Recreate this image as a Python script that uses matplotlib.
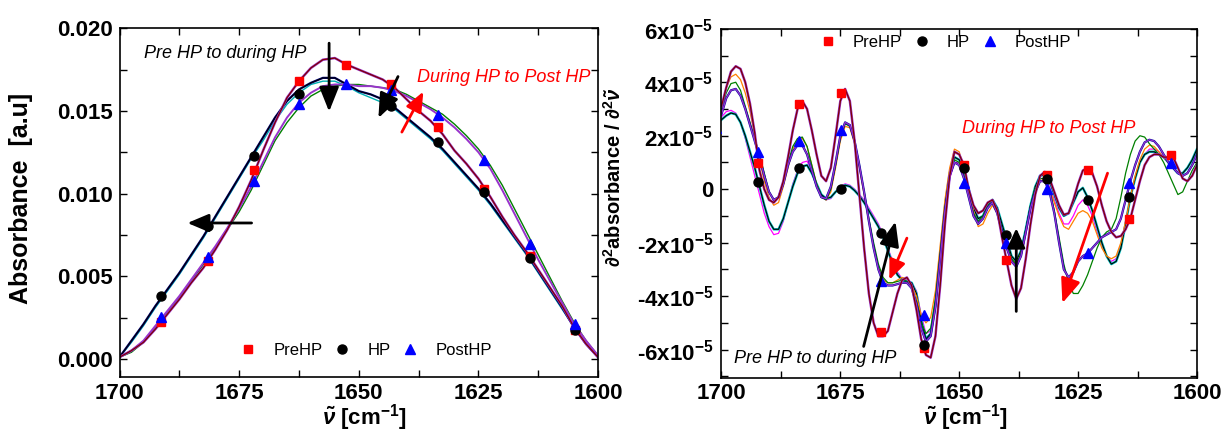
import numpy as np
import matplotlib
matplotlib.use('Agg')
import matplotlib.pyplot as plt
from matplotlib.ticker import MultipleLocator

plt.rcParams['font.family'] = ['Liberation Sans', 'DejaVu Sans']
plt.rcParams['mathtext.fontset'] = 'custom'
plt.rcParams['mathtext.rm'] = 'Liberation Sans:bold'
plt.rcParams['mathtext.bf'] = 'Liberation Sans:bold'
plt.rcParams['mathtext.it'] = 'Liberation Sans:italic:bold'
plt.rcParams['mathtext.default'] = 'rm'

# ---- left panel: absorbance, x every 2.5 cm-1 from 1700 to 1600 (values in 1e-3 a.u.)
wn_left = np.arange(1700, 1599, -2.5)
abs_pre = [0.1, 0.5, 1.0, 1.8, 2.7, 3.6, 4.6, 5.5, 6.6, 7.8,
           9.2, 10.8, 12.6, 14.3, 15.8, 16.8, 17.6, 18.1, 18.2, 17.8,
           17.5, 17.2, 16.9, 16.4, 15.7, 15.0, 14.4, 13.6, 12.6, 11.8,
           10.9, 9.8, 8.6, 7.5, 6.5, 5.4, 4.3, 3.2, 1.9, 0.9,
           0.1]
abs_hp = [0.1, 1.1, 2.1, 3.2, 4.2, 5.2, 6.3, 7.4, 8.6, 9.8,
          11.0, 12.2, 13.4, 14.6, 15.6, 16.3, 16.7, 17.0, 17.0, 16.6,
          16.2, 16.0, 15.7, 15.2, 14.6, 14.0, 13.4, 12.7, 11.9, 11.1,
          10.3, 9.4, 8.4, 7.4, 6.4, 5.3, 4.2, 3.1, 1.9, 0.9,
          0.1]
abs_hp2 = [0.1, 1.0, 2.0, 3.1, 4.1, 5.1, 6.2, 7.3, 8.5, 9.7,
           10.9, 12.1, 13.2, 14.4, 15.4, 16.1, 16.6, 16.8, 16.8, 16.5,
           16.1, 15.8, 15.5, 15.1, 14.5, 13.9, 13.3, 12.6, 11.8, 11.0,
           10.2, 9.3, 8.3, 7.3, 6.3, 5.2, 4.1, 3.0, 1.9, 0.9,
           0.1]
abs_post = [0.1, 0.5, 1.1, 2.0, 2.9, 3.8, 4.8, 5.8, 6.8, 7.9,
            9.1, 10.4, 11.9, 13.4, 14.6, 15.5, 16.1, 16.5, 16.6, 16.6,
            16.5, 16.5, 16.4, 16.2, 15.9, 15.5, 15.1, 14.6, 14.0, 13.3,
            12.5, 11.5, 10.2, 8.8, 7.4, 6.0, 4.7, 3.4, 2.1, 1.1,
            0.2]
abs_post2 = [0.1, 0.4, 1.0, 1.9, 2.8, 3.7, 4.7, 5.7, 6.7, 7.8,
             8.9, 10.2, 11.7, 13.2, 14.3, 15.2, 15.9, 16.3, 16.5, 16.6,
             16.6, 16.5, 16.4, 16.3, 16.0, 15.6, 15.2, 14.8, 14.2, 13.5,
             12.7, 11.7, 10.5, 9.1, 7.7, 6.3, 4.9, 3.5, 2.2, 1.1,
             0.2]

mk_left = [1691.3, 1681.5, 1671.9, 1662.4, 1652.7, 1643.2, 1633.5, 1623.9, 1614.3, 1604.9]
mk_pre_left = [2.25, 5.93, 11.4, 16.8, 17.8, 16.6, 14.0, 10.25, 6.23, 1.77]
mk_hp_left = [3.82, 8.02, 12.26, 16.04, np.nan, 15.31, 13.10, 10.11, 6.13, 1.75]
mk_post_left = [2.51, 6.19, 10.75, 15.44, 16.62, 16.28, 14.77, 12.02, 6.97, 2.11]

# ---- right panel: second derivative, x every 1 cm-1 from 1700 to 1600 (values in 1e-5)
wn_right = np.arange(1700, 1599, -1)
d2_pre = [3.1, 3.8, 4.4, 4.6, 4.5, 4.0, 3.2, 2.1, 0.7, 0.0,
          -0.4, -0.5, -0.3, 0.3, 1.2, 2.2, 3.0, 3.3, 3.0, 2.2,
          1.3, 0.5, 0.3, 0.8, 2.0, 3.3, 3.75, 3.3, 1.8, -0.2,
          -2.2, -3.9, -5.0, -5.5, -5.5, -5.3, -4.6, -3.9, -3.4, -3.3,
          -3.6, -4.5, -5.6, -6.2, -6.3, -5.5, -3.6, -1.3, 0.5, 1.4,
          1.3, 0.9, 0.0, -0.6, -0.9, -0.8, -0.5, -0.4, -0.8, -1.8,
          -2.7, -3.6, -4.1, -3.7, -2.6, -1.3, -0.2, 0.5, 0.65, 0.4,
          -0.1, -0.6, -0.95, -0.9, -0.4, 0.2, 0.7, 0.8, 0.6, 0.1,
          -0.6, -1.2, -1.6, -1.8, -1.75, -1.5, -1.1, -0.4, 0.3, 0.9,
          1.2, 1.3, 1.3, 1.2, 1.2, 1.2, 0.8, 0.4, 0.3, 0.5,
          0.9]
d2_hp = [2.6, 2.75, 2.85, 2.8, 2.5, 2.0, 1.4, 0.8, 0.1, -0.6,
         -1.2, -1.5, -1.5, -1.1, -0.5, 0.1, 0.6, 0.85, 0.9, 0.6,
         0.2, -0.2, -0.35, -0.3, -0.1, 0.05, 0.15, 0.1, -0.05, -0.25,
         -0.5, -0.8, -1.1, -1.4, -1.8, -2.3, -2.8, -3.2, -3.4, -3.45,
         -3.5, -3.9, -4.9, -5.6, -5.4, -4.3, -2.5, -0.7, 0.6, 1.2,
         1.1, 0.7, 0.0, -0.7, -1.1, -1.0, -0.6, -0.4, -0.7, -1.3,
         -1.9, -2.5, -2.7, -2.3, -1.5, -0.6, 0.1, 0.5, 0.55, 0.3,
         -0.2, -0.7, -1.0, -0.9, -0.5, -0.1, 0.05, -0.3, -0.8, -1.4,
         -2.0, -2.5, -2.8, -2.7, -2.2, -1.3, -0.3, 0.4, 1.0, 1.3,
         1.4, 1.4, 1.3, 1.2, 1.0, 0.8, 0.6, 0.6, 0.8, 1.1,
         1.5]
d2_hp2 = [2.7, 2.9, 2.95, 2.85, 2.5, 1.9, 1.2, 0.5, -0.2, -0.9,
          -1.4, -1.7, -1.65, -1.2, -0.5, 0.2, 0.7, 1.0, 1.05, 0.7,
          0.2, -0.2, -0.4, -0.35, -0.1, 0.1, 0.2, 0.15, 0.0, -0.2,
          -0.4, -0.7, -1.0, -1.3, -1.7, -2.2, -2.7, -3.1, -3.35, -3.4,
          -3.5, -3.8, -4.7, -5.4, -5.3, -4.3, -2.6, -0.9, 0.4, 1.0,
          1.0, 0.6, -0.1, -0.8, -1.2, -1.1, -0.7, -0.5, -0.8, -1.5,
          -2.2, -2.7, -2.9, -2.5, -1.7, -0.8, -0.1, 0.3, 0.35, 0.1,
          -0.4, -0.9, -1.3, -1.3, -1.0, -0.6, -0.4, -0.6, -1.0, -1.6,
          -2.1, -2.5, -2.7, -2.6, -2.1, -1.2, -0.3, 0.4, 1.0, 1.3,
          1.5, 1.5, 1.4, 1.2, 1.0, 0.8, 0.6, 0.5, 0.6, 0.9,
          1.3]
d2_hp3 = [3.0, 3.8, 4.2, 4.3, 4.1, 3.6, 2.9, 2.0, 1.1, 0.3,
          -0.3, -0.6, -0.5, 0.1, 0.8, 1.5, 1.85, 1.9, 1.6, 0.9,
          0.2, -0.3, -0.4, -0.1, 0.8, 1.8, 2.35, 2.3, 1.7, 0.8,
          -0.2, -1.2, -2.1, -2.9, -3.4, -3.5, -3.5, -3.4, -3.3, -3.35,
          -3.6, -4.0, -4.7, -5.0, -4.8, -3.8, -2.1, -0.4, 0.8, 1.5,
          1.4, 0.8, 0.0, -0.8, -1.4, -1.3, -0.9, -0.6, -0.9, -1.6,
          -2.2, -2.6, -2.8, -2.4, -1.6, -0.7, 0.0, 0.35, 0.3, 0.0,
          -0.5, -1.0, -1.4, -1.5, -1.2, -0.9, -0.8, -0.9, -1.2, -1.7,
          -2.2, -2.5, -2.6, -2.5, -2.0, -1.2, -0.3, 0.5, 1.1, 1.5,
          1.65, 1.6, 1.4, 1.2, 1.0, 0.8, 0.6, 0.5, 0.6, 0.9,
          1.3]
d2_post = [2.8, 3.4, 3.7, 3.75, 3.5, 3.0, 2.4, 1.8, 1.2, 0.5,
           -0.1, -0.4, -0.3, 0.2, 0.9, 1.4, 1.65, 1.65, 1.3, 0.7,
           0.1, -0.3, -0.35, 0.1, 1.0, 2.0, 2.5, 2.4, 1.8, 0.9,
           -0.1, -1.2, -2.2, -3.0, -3.5, -3.6, -3.6, -3.55, -3.5, -3.5,
           -3.7, -4.3, -5.2, -5.7, -5.5, -4.4, -2.6, -0.8, 0.5, 1.0,
           0.9, 0.4, -0.3, -1.0, -1.3, -1.1, -0.7, -0.5, -0.9, -1.6,
           -2.2, -2.7, -2.9, -2.5, -1.6, -0.7, -0.1, 0.3, 0.3, -0.1,
           -0.9, -2.0, -3.0, -3.3, -3.1, -2.7, -2.5, -2.4, -2.2, -2.0,
           -1.8, -1.7, -1.6, -1.5, -1.1, -0.4, 0.3, 0.9, 1.4, 1.75,
           1.85, 1.8, 1.6, 1.3, 1.0, 0.8, 0.6, 0.5, 0.6, 0.9,
           1.3]
d2_post2 = [3.0, 3.6, 3.95, 4.0, 3.7, 3.1, 2.5, 1.9, 1.3, 0.6,
            -0.1, -0.4, -0.3, 0.3, 1.0, 1.6, 1.9, 1.95, 1.6, 0.9,
            0.2, -0.3, -0.4, 0.0, 0.9, 1.9, 2.45, 2.35, 1.8, 0.9,
            -0.1, -1.1, -2.0, -2.8, -3.3, -3.5, -3.5, -3.45, -3.4, -3.45,
            -3.7, -4.2, -5.0, -5.4, -5.2, -4.1, -2.4, -0.7, 0.5, 1.1,
            1.0, 0.5, -0.2, -0.9, -1.2, -1.0, -0.6, -0.4, -0.8, -1.5,
            -2.1, -2.6, -2.8, -2.4, -1.5, -0.6, 0.0, 0.4, 0.4, 0.0,
            -0.8, -1.8, -2.8, -3.5, -3.9, -3.9, -3.6, -3.2, -2.7, -2.2,
            -1.8, -1.6, -1.5, -1.1, -0.3, 0.6, 1.3, 1.8, 2.0, 1.95,
            1.7, 1.5, 1.3, 1.0, 0.6, 0.2, -0.2, -0.1, 0.3, 0.7,
            1.0]

mk_right = [1701.1, 1692.4, 1683.6, 1674.9, 1666.4, 1657.5, 1649.0, 1640.1, 1631.6, 1622.9, 1614.2, 1605.5]
mk_pre_right = [np.nan, 0.97, 3.19, 3.59, -5.35, -5.94, 0.91, -2.64, 0.53, 0.70, -1.11, 1.29]
mk_hp_right = [np.nan, 0.28, 0.78, 0.0, -1.62, -5.82, 0.78, -1.71, 0.38, -0.40, -0.30, np.nan]
mk_post_right = [2.28, 1.41, 1.82, 2.22, -3.43, -4.70, 0.25, -2.02, 0.0, -2.39, 0.25, 0.97]

series_labels = ['PreHP', 'HP', 'PostHP']


def arrow(ax, tail, head, color, hl=15, hw=6):
    ax.annotate('', xy=head, xytext=tail,
                arrowprops=dict(arrowstyle='-|>,head_length=%g,head_width=%g' % (hl, hw),
                                color=color, lw=2.0, shrinkA=0, shrinkB=0,
                                mutation_scale=1), zorder=6)


def style(ax):
    for sp in ax.spines.values():
        sp.set_linewidth(1.2)
    ax.tick_params(which='both', direction='in', top=True, right=True,
                   width=1.0, length=5, labelsize=16)
    ax.tick_params(axis='x', pad=4)
    ax.set_xlim(1700, 1600)
    ax.xaxis.set_minor_locator(MultipleLocator(12.5))
    xt = [1700, 1675, 1650, 1625, 1600]
    ax.set_xticks(xt, [str(t) for t in xt], fontweight='bold')


def markers(ax, x, pre, hp, post, scale):
    hs = []
    hs += ax.plot(x, np.array(pre) * scale, 's', color='#ff0000', ms=6, zorder=5, label=series_labels[0])
    hs += ax.plot(x, np.array(hp) * scale, 'o', color='black', ms=6.5, zorder=5, label=series_labels[1])
    hs += ax.plot(x, np.array(post) * scale, '^', color='#0000ff', ms=7, zorder=5, label=series_labels[2])
    return hs


def main():
    fig = plt.figure(figsize=(12.27, 4.34), dpi=100)
    axL = fig.add_axes([0.0974, 0.1313, 0.39, 0.8035])
    axR = fig.add_axes([0.588, 0.1297, 0.3875, 0.804])

    # left panel
    s = 1e-3
    axL.plot(wn_left, np.array(abs_hp2) * s, color='#00b0b0', lw=1.0)
    axL.plot(wn_left, np.array(abs_hp) * s, color='#000080', lw=1.6)
    axL.plot(wn_left, np.array(abs_hp) * s, color='black', lw=0.8)
    axL.plot(wn_left, np.array(abs_post2) * s, color='#008000', lw=1.0)
    axL.plot(wn_left, np.array(abs_post) * s, color='#9933cc', lw=1.4)
    axL.plot(wn_left, np.array(abs_pre) * s, color='#9933cc', lw=1.8)
    axL.plot(wn_left, np.array(abs_pre) * s, color='#800000', lw=0.9)
    hs = markers(axL, mk_left, mk_pre_left, mk_hp_left, mk_post_left, s)

    style(axL)
    axL.set_ylim(-0.0011, 0.020)
    yt = [0.0, 0.005, 0.010, 0.015, 0.020]
    axL.set_yticks(yt, ['%.3f' % t for t in yt], fontweight='bold')
    axL.yaxis.set_minor_locator(MultipleLocator(0.0025))
    axL.tick_params(axis='y', pad=5)

    axL.text(1694.8, 0.01849, 'Pre HP to during HP', style='italic', fontsize=13,
             va='center', ha='left')
    axL.text(1637.9, 0.01704, 'During HP to Post HP', style='italic', fontsize=13,
             color='red', va='center', ha='left')
    arrow(axL, (1656.2, 0.0191), (1656.2, 0.01496), 'black')
    arrow(axL, (1641.8, 0.01708), (1645.9, 0.01457), 'black')
    arrow(axL, (1641.0, 0.01372), (1636.5, 0.01617), 'red', hl=12, hw=5)
    arrow(axL, (1672.4, 0.00822), (1685.8, 0.00822), 'black', hl=13, hw=5.5)

    axL.legend(hs, series_labels, loc='center', bbox_to_anchor=(0.515, 0.077), ncol=3,
               frameon=False, fontsize=12, handlelength=1.0, handletextpad=1.0,
               columnspacing=0.7)

    # right panel
    s = 1e-5
    axR.plot(wn_right, np.array(d2_hp2) * s, color='#ff00ff', lw=0.9)
    axR.plot(wn_right, np.array(d2_hp) * s, color='#00c0c0', lw=1.8)
    axR.plot(wn_right, np.array(d2_hp) * s, color='black', lw=0.8)
    axR.plot(wn_right, np.array(d2_hp3) * s, color='#ff8000', lw=0.9)
    axR.plot(wn_right, np.array(d2_post2) * s, color='#008000', lw=0.9)
    axR.plot(wn_right, np.array(d2_post) * s, color='#0000a0', lw=1.6)
    axR.plot(wn_right, np.array(d2_post) * s, color='#9933cc', lw=0.9)
    axR.plot(wn_right, np.array(d2_pre) * s, color='#9933cc', lw=1.8)
    axR.plot(wn_right, np.array(d2_pre) * s, color='#800000', lw=0.9)
    hs = markers(axR, mk_right, mk_pre_right, mk_hp_right, mk_post_right, s)

    style(axR)
    axR.set_ylim(-7.05e-5, 6e-5)
    yt = [-6, -4, -2, 0, 2, 4, 6]
    ylab = ['0' if t == 0 else '%dx10$^{-5}$' % t for t in yt]
    axR.set_yticks([t * 1e-5 for t in yt], ylab, fontweight='bold')
    axR.yaxis.set_minor_locator(MultipleLocator(1e-5))
    axR.tick_params(axis='y', pad=6)

    axR.text(1697.4, -6.32e-5, 'Pre HP to during HP', style='italic', fontsize=13,
             va='center', ha='left')
    axR.text(1649.4, 2.28e-5, 'During HP to Post HP', style='italic', fontsize=13,
             color='red', va='center', ha='left')
    arrow(axR, (1670.1, -5.88e-5), (1663.4, -1.21e-5), 'black')
    arrow(axR, (1661.0, -1.83e-5), (1664.7, -3.39e-5), 'red', hl=12, hw=5)
    arrow(axR, (1638.0, -4.57e-5), (1638.0, -1.46e-5), 'black', hl=12, hw=5.5)
    arrow(axR, (1618.8, 0.6e-5), (1628.3, -4.26e-5), 'red')

    axR.legend(hs, series_labels, loc='center', bbox_to_anchor=(0.471, 0.96), ncol=3,
               frameon=False, fontsize=12, handlelength=1.0, handletextpad=1.0,
               columnspacing=0.7)

    # axis labels
    fig.text(0.0175, 0.5426, 'Absorbance  [a.u]', rotation=90, ha='center', va='center',
             fontsize=18, fontweight='bold')
    fig.text(0.2966, 0.038, r'$\tilde{\mathit{\nu}}$ [cm$^{-1}$]', ha='center', va='center',
             fontsize=16, fontweight='bold')
    fig.text(0.7866, 0.038, r'$\tilde{\mathit{\nu}}$ [cm$^{-1}$]', ha='center', va='center',
             fontsize=16, fontweight='bold')
    fig.text(0.500, 0.593, r'$\partial^{2}$absorbance / $\partial^{2}\tilde{\mathit{\nu}}$',
             rotation=90, ha='center', va='center', fontsize=14.5, fontweight='bold')

    fig.savefig('out.png', dpi=100)


if __name__ == "__main__":
    main()
